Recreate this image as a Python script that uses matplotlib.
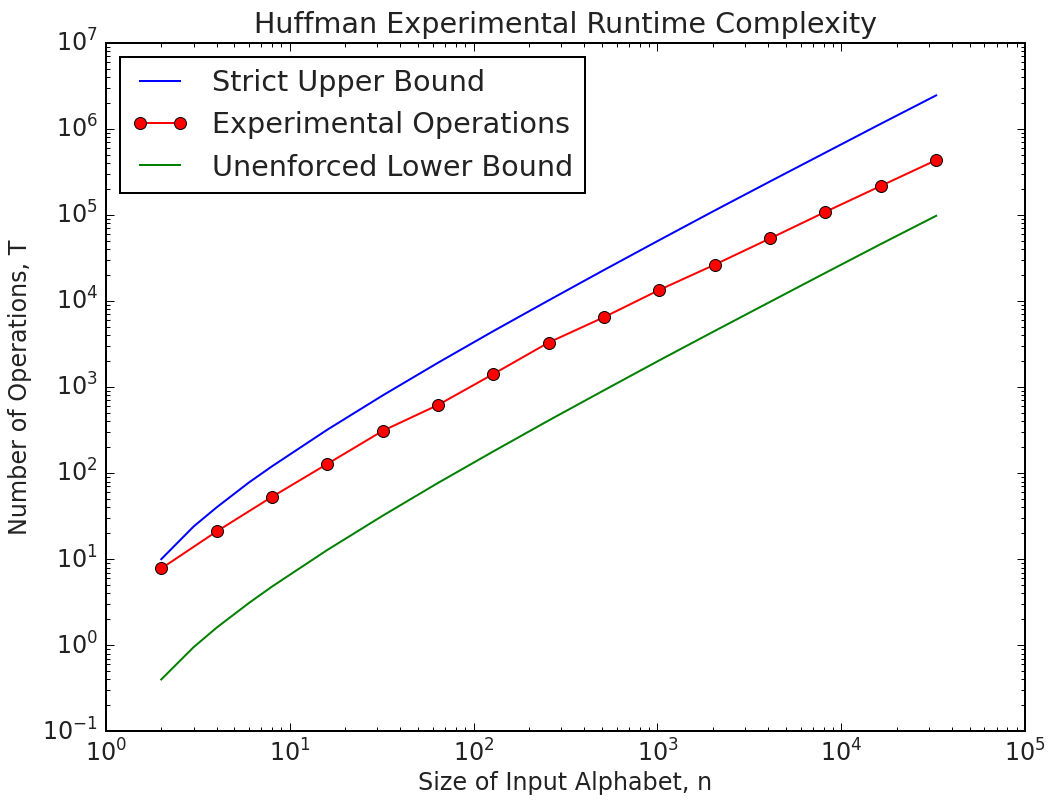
import matplotlib
matplotlib.use("Agg")
from matplotlib import pyplot as plt

# alphabet sizes for the bound curves
n_bound = [2, 3, 4, 6, 8, 16, 32, 64, 128, 256, 512, 1024, 2048, 4096,
           8192, 16384, 32768]
upper = [10, 24, 40, 78, 120, 320, 800, 1920, 4480, 10200, 23000, 51200,
         113000, 246000, 532000, 1150000, 2460000]
lower = [0.4, 0.95, 1.6, 3.1, 4.8, 12.8, 32, 77, 179, 410, 920, 2050,
         4500, 9800, 21300, 46000, 98000]

# experimental runs
n_exp = [2, 4, 8, 16, 32, 64, 128, 256, 512, 1024, 2048, 4096, 8192,
         16384, 32768]
ops = [7.8, 21, 53, 128, 310, 620, 1420, 3300, 6500, 13500, 26500,
       53500, 109000, 218000, 435000]

DPI = 143.5

plt.style.use("classic")
fig = plt.figure(figsize=(1048.3 / DPI, 801.3 / DPI), dpi=DPI)
fig.subplots_adjust(left=0.101, right=0.978, bottom=0.087, top=0.946)
ax = fig.add_subplot(111)

ax.loglog(n_bound, upper, "b-", label="Strict Upper Bound")
ax.loglog(n_exp, ops, "r-o", label="Experimental Operations")
ax.loglog(n_bound, lower, "g-", label="Unenforced Lower Bound")

ax.set_xlim(1, 1e5)
ax.set_ylim(1e-1, 1e7)
ax.set_title("Huffman Experimental Runtime Complexity", color="#222222")
ax.set_xlabel("Size of Input Alphabet, n", color="#222222", labelpad=2)
ax.set_ylabel("Number of Operations, T", color="#222222")
ax.tick_params(labelcolor="#222222")
leg = ax.legend(loc="upper left")
for t in leg.get_texts():
    t.set_color("#222222")

fig.savefig("out.png", dpi=DPI, facecolor="white")
